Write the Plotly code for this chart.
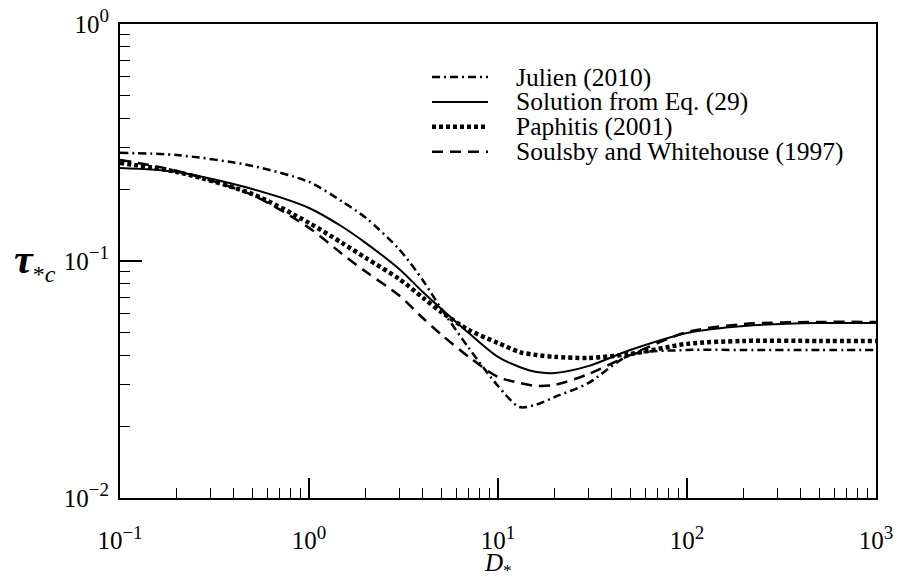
import plotly.graph_objects as go

# ---- data ----
d_star = [0.1, 0.2, 0.5, 1, 1.5, 2, 3, 4, 5, 7, 10, 13, 16, 20, 30, 50, 100, 200, 500, 1000]

julien = [0.286, 0.280, 0.252, 0.2155, 0.178, 0.152, 0.112, 0.083, 0.063, 0.043, 0.0297, 0.0242,
          0.0248, 0.0267, 0.0305, 0.0401, 0.0421, 0.0421, 0.0421, 0.0421]
solution = [0.247, 0.2375, 0.2013, 0.1674, 0.1395, 0.119, 0.0925, 0.074, 0.063, 0.0497, 0.0394,
            0.0357, 0.034, 0.0337, 0.036, 0.0421, 0.0497, 0.0532, 0.0547, 0.0547]
paphitis = [0.259, 0.2375, 0.1918, 0.1448, 0.119, 0.103, 0.084, 0.070, 0.061, 0.0512, 0.0451,
            0.0413, 0.0401, 0.0394, 0.039, 0.0405, 0.0447, 0.046, 0.046, 0.046]
soulsby = [0.267, 0.240, 0.19, 0.138, 0.107, 0.090, 0.0715, 0.0575, 0.049, 0.0394, 0.0324,
           0.0306, 0.0297, 0.030, 0.0333, 0.0401, 0.0501, 0.0542, 0.0553, 0.0553]

series_names = ["Julien (2010)", "Solution from Eq. (29)", "Paphitis (2001)",
                "Soulsby and Whitehouse (1997)"]
series_values = [julien, solution, paphitis, soulsby]

SUP = "<sup><span style='font-size:19px'>{}</span></sup>"
x_tick_vals = [0.1, 1, 10, 100, 1000]
x_tick_text = ["10" + SUP.format(e) for e in ["\u22121", "0", "1", "2", "3"]]
y_tick_vals = [0.01, 0.1, 1]
y_tick_text = ["10" + SUP.format(e) for e in ["\u22122", "\u22121", "0"]]

# ---- styles ----
styles = [
    dict(width=2.5, dash="8px,4px,2px,4px"),
    dict(width=2, dash="solid"),
    dict(width=4.5, dash="4px,3px"),
    dict(width=2.5, dash="11px,7px"),
]
FONT = "Liberation Serif"

fig = go.Figure()
for name, vals, st in zip(series_names, series_values, styles):
    fig.add_trace(go.Scatter(
        x=d_star, y=vals, mode="lines", name=name, showlegend=False,
        line=dict(color="black", width=st["width"], dash=st["dash"],
                  shape="spline", smoothing=0.8),
    ))

minor_x = [k * 10 ** e for e in range(-1, 3) for k in range(2, 10)]
minor_y = [k * 10 ** e for e in range(-2, 0) for k in range(2, 10)]

fig.update_xaxes(
    type="log", range=[-1, 3], tickmode="array", tickvals=x_tick_vals, ticktext=x_tick_text,
    ticks="inside", ticklen=20, tickwidth=1.5, tickcolor="black",
    showline=True, linewidth=2, linecolor="black", mirror=True, automargin=False,
    showgrid=False, zeroline=False, ticklabelstandoff=19, ticklabeloverflow="allow",
    tickfont=dict(family=FONT, size=25, color="black"),
    minor=dict(tickmode="array", tickvals=minor_x, ticks="inside", ticklen=10,
               tickwidth=1.2, tickcolor="black", showgrid=False),
)
fig.update_yaxes(
    type="log", range=[-2, 0], tickmode="array", tickvals=y_tick_vals, ticktext=y_tick_text,
    ticks="inside", ticklen=22, tickwidth=1.5, tickcolor="black",
    showline=True, linewidth=2, linecolor="black", mirror=True, automargin=False,
    showgrid=False, zeroline=False, ticklabelstandoff=4, ticklabeloverflow="allow",
    tickfont=dict(family=FONT, size=25, color="black"),
    minor=dict(tickmode="array", tickvals=minor_y, ticks="inside", ticklen=10,
               tickwidth=1.2, tickcolor="black", showgrid=False),
)

# axis titles
fig.add_annotation(text="<i>D</i><sub>*</sub>", xref="paper", yref="paper",
                   x=0.5, y=-0.14, yanchor="middle", showarrow=False,
                   font=dict(family=FONT, size=25, color="black"))
fig.add_annotation(text="<b><i>\u03c4</i></b><sub><span style='font-size:24px'>*<i>c</i></span></sub>",
                   xref="paper", yref="paper",
                   x=-0.1124, y=0.498, xanchor="center", yanchor="middle", showarrow=False,
                   font=dict(family=FONT, size=42, color="black"))

# legend (drawn inside plot area)
leg_x0, leg_x1, leg_tx = 0.4127, 0.4868, 0.521
leg_y0, leg_dy = 0.888, 0.0525
for i, (name, st) in enumerate(zip(series_names, styles)):
    yy = leg_y0 - i * leg_dy
    fig.add_shape(type="line", xref="paper", yref="paper", x0=leg_x0, x1=leg_x1, y0=yy, y1=yy,
                  line=dict(color="black", width=st["width"], dash=st["dash"]))
    fig.add_annotation(text=name, xref="paper", yref="paper", x=leg_tx, y=yy,
                       xanchor="left", yanchor="middle", showarrow=False,
                       font=dict(family=FONT, size=25.5, color="black"))

# page body has an 8px margin, so the figure is offset by 8px inside the 901x577 window
fig.update_layout(
    width=893, height=569,
    margin=dict(l=112, r=25, t=16, b=79, autoexpand=False),
    paper_bgcolor="white", plot_bgcolor="white",
    font=dict(family=FONT, color="black"),
)

fig.write_html("out.html")
